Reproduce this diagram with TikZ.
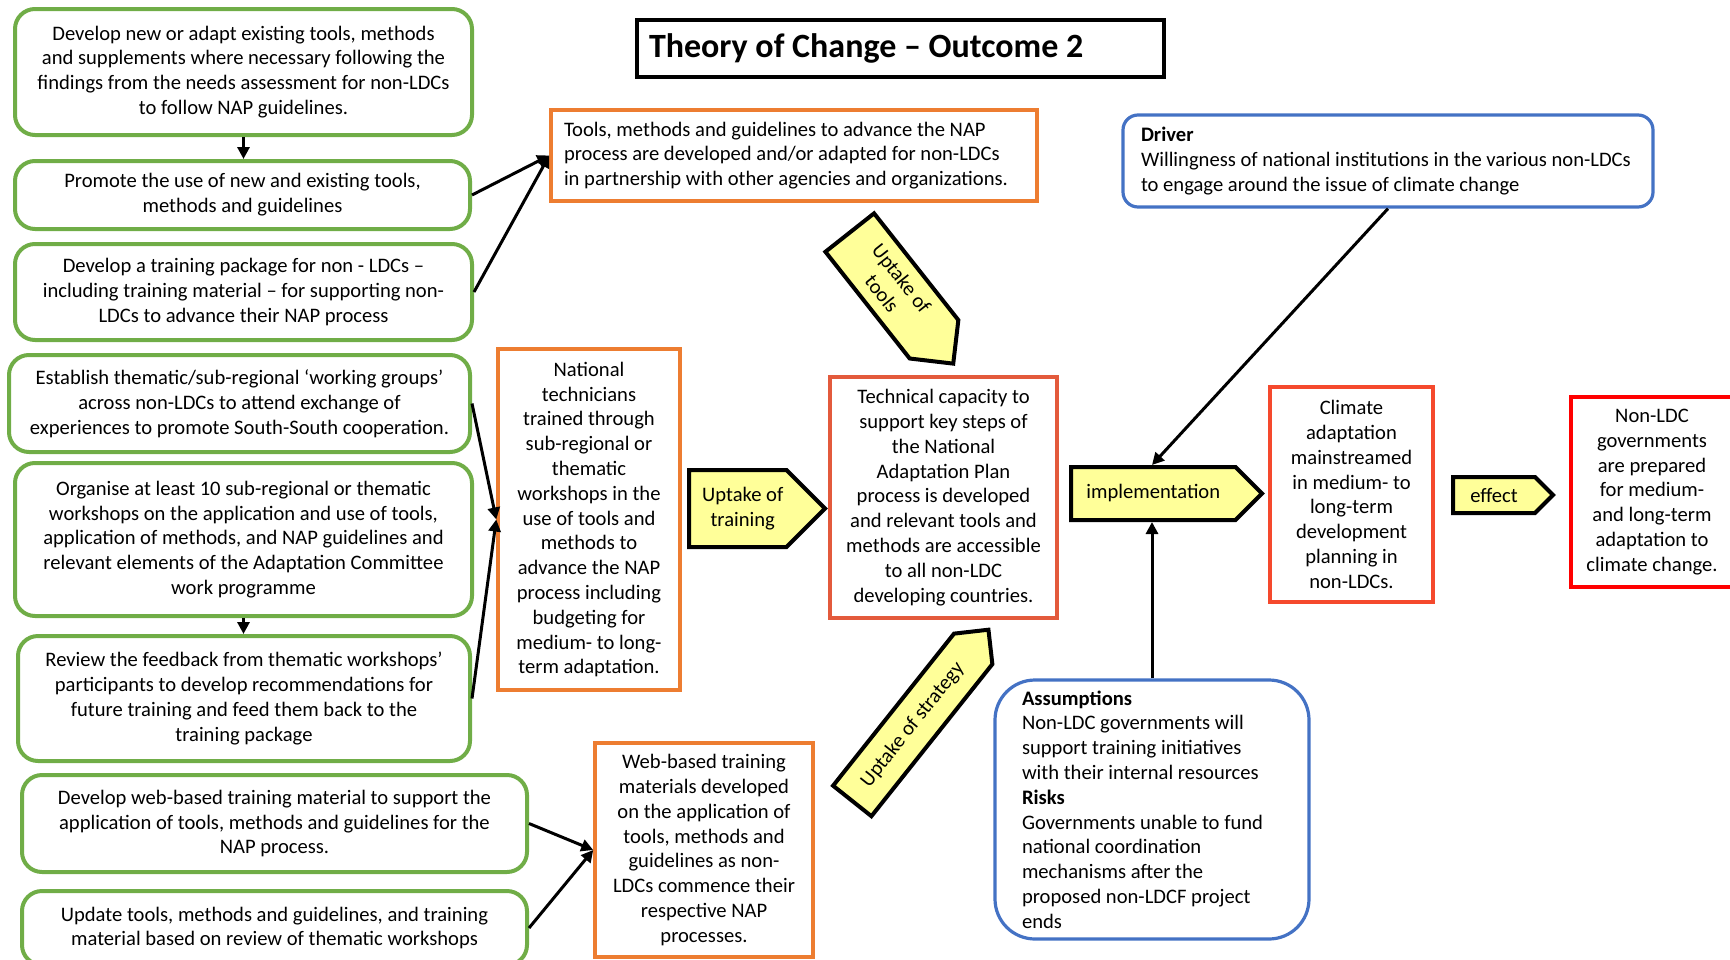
\documentclass[tikz,border=0pt]{standalone}
\usepackage{fontspec}
\setmainfont{Carlito}
\usetikzlibrary{positioning,shapes.symbols,arrows.meta}

\definecolor{actgreen}{HTML}{70AD47}
\definecolor{outorange}{HTML}{ED7D31}
\definecolor{capred}{HTML}{E35A3C}
\definecolor{mainred}{HTML}{F5492D}
\definecolor{goalred}{HTML}{FF0000}
\definecolor{drvblue}{HTML}{4472C4}
\definecolor{tagyellow}{HTML}{FFFF99}

\begin{document}
\begin{tikzpicture}[x=0.5pt, y=-0.5pt,
  every node/.style={font=\fontsize{10.3}{12.4}\selectfont, align=center, inner sep=0pt},
  actbox/.style={draw=actgreen, line width=2pt, rounded corners=10pt},
  outbox/.style={draw=outorange, line width=1.75pt},
  resbox/.style={line width=1.75pt},
  drvbox/.style={draw=drvblue, line width=1.6pt, align=flush left},
  tag/.style={shape=signal, signal to=east, signal pointer angle=90, draw=black, fill=tagyellow, line width=2pt, anchor=west},
  conn/.style={-{Triangle[length=6pt,width=6pt]}, line width=1.5pt}]
\useasboundingbox (0,0) rectangle (1730,959);
\clip (0,0) rectangle (1730,959);
% title
\node[draw, line width=2pt, text width=251.5pt, inner xsep=6pt, minimum height=28.5pt, align=flush left,
  font=\fontsize{17}{20}\selectfont\bfseries] (title) at (900.5,48.5) {Theory of Change – Outcome 2};
% activities
\node[actbox, minimum width=228.5pt, minimum height=63pt] (g1) at (243.5,72)
  {Develop new or adapt existing tools, methods\\and supplements where necessary following the\\findings from the needs assessment for non-LDCs\\to follow NAP guidelines.};
\node[actbox, minimum width=227.5pt, minimum height=34pt] (g2) at (242.5,195)
  {Promote the use of new and existing tools,\\methods and guidelines};
\node[actbox, minimum width=228.5pt, minimum height=48pt] (g3) at (243.5,292)
  {Develop a training package for non - LDCs –\\including training material – for supporting non-\\LDCs to advance their NAP process};
\node[actbox, minimum width=230.5pt, minimum height=48.5pt] (g4) at (239.5,403.5)
  {Establish thematic/sub-regional ‘working groups’\\across non-LDCs to attend exchange of\\experiences to promote South-South cooperation.};
\node[actbox, minimum width=228.5pt, minimum height=76.5pt] (g5) at (243.5,539.5)
  {Organise at least 10 sub-regional or thematic\\workshops on the application and use of tools,\\application of methods, and NAP guidelines and\\relevant elements of the Adaptation Committee\\work programme};
\node[actbox, minimum width=226pt, minimum height=62.5pt] (g6) at (244,698.5)
  {Review the feedback from thematic workshops’\\participants to develop recommendations for\\future training and feed them back to the\\training package};
\node[actbox, minimum width=252.5pt, minimum height=48.5pt] (g7) at (274.5,823.5)
  {Develop web-based training material to support the\\application of tools, methods and guidelines for the\\NAP process.};
\node[actbox, minimum width=252.5pt, minimum height=37pt] (g8) at (274.5,928)
  {Update tools, methods and guidelines, and training\\material based on review of thematic workshops};
% outputs
\node[outbox, text width=230pt, inner xsep=6.5pt, minimum height=45.5pt, align=flush left] (o1) at (794,155.5)
  {Tools, methods and guidelines to advance the NAP\\process are developed and/or adapted for non-LDCs\\in partnership with other agencies and organizations.};
\node[outbox, minimum width=91pt, minimum height=170.5pt] (o2) at (589,519.5)
  {National\\technicians\\trained through\\sub-regional or\\thematic\\workshops in the\\use of tools and\\methods to\\advance the NAP\\process including\\budgeting for\\medium- to long-\\term adaptation.};
\node[outbox, minimum width=109pt, minimum height=107pt] (o3) at (704,850)
  {Web-based training\\materials developed\\on the application of\\tools, methods and\\guidelines as non-\\LDCs commence their\\respective NAP\\processes.};
% outcome and impact
\node[resbox, draw=capred, minimum width=113.5pt, minimum height=120.5pt] (cap) at (943.5,497.5)
  {Technical capacity to\\support key steps of\\the National\\Adaptation Plan\\process is developed\\and relevant tools and\\methods are accessible\\to all non-LDC\\developing countries.};
\node[resbox, draw=mainred, minimum width=81.5pt, minimum height=107.5pt] (main) at (1351.5,494.5)
  {Climate\\adaptation\\mainstreamed\\in medium- to\\long-term\\development\\planning in\\non-LDCs.};
\node[resbox, draw=goalred, minimum width=81pt, minimum height=95pt] (goal) at (1652,492)
  {Non-LDC\\governments\\are prepared\\for medium-\\and long-term\\adaptation to\\climate change.};
% driver, assumptions
\node[drvbox, rounded corners=7.5pt, text width=247pt, inner xsep=9pt, minimum height=46pt] (drv) at (1388,161)
  {\textbf{Driver}\\Willingness of national institutions in the various non-LDCs\\to engage around the issue of climate change};
\node[drvbox, rounded corners=20pt, text width=130pt, inner xsep=13.5pt, minimum height=129.5pt] (asm) at (1152,809.5)
  {\textbf{Assumptions}\\Non-LDC governments will\\support training initiatives\\with their internal resources\\\textbf{Risks}\\Governments unable to fund\\national coordination\\mechanisms after the\\proposed non-LDCF project\\ends};
% pathway tags
\node[tag, minimum width=68pt, minimum height=38.5pt] (uptrain) at (687,508.5) {\hspace*{5pt}Uptake of\\\hspace*{5pt}training};
\node[tag, minimum width=95.5pt, minimum height=26.5pt] (impl) at (1069,493.5) {implementation};
\node[tag, minimum width=50pt, minimum height=18pt] (eff) at (1451,495) {effect};
\node[tag, rotate=-51.7, minimum width=83.5pt, minimum height=31pt] (uptool) at (848.5,231) {Uptake of\\tools};
\node[tag, rotate=51.5, minimum width=109.4pt, minimum height=24.5pt] (upstrat) at (851,802.5) {Uptake of strategy};

\draw[conn] (g1.south) -- (g1.south |- g2.north);
\draw[conn] (g5.south) -- (g5.south |- g6.north);
\draw[conn] (g2.east) -- (o1.west); \draw[conn] (g3.east) -- (o1.west);
\draw[conn] (g4.east) -- (o2.west); \draw[conn] (g6.east) -- (o2.west);
\draw[conn] (g7.east) -- (o3.west); \draw[conn] (g8.east) -- (o3.west);
\draw[conn] (drv.south) -- (impl.north -| asm.north);
\draw[conn] (asm.north) -- (asm.north |- impl.south);
\end{tikzpicture}
\end{document}
